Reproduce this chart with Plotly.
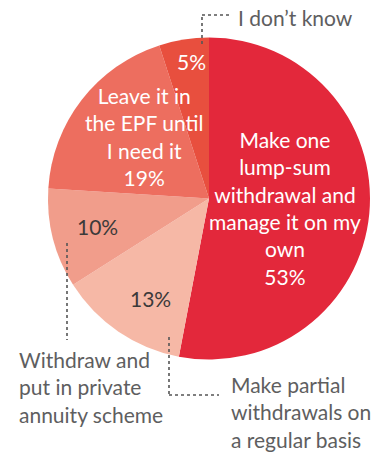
import plotly.graph_objects as go

# Data
labels = [
    "Make one lump-sum withdrawal and manage it on my own",
    "Make partial withdrawals on a regular basis",
    "Withdraw and put in private annuity scheme",
    "Leave it in the EPF until I need it",
    "I don't know",
]
values = [53, 13, 10, 19, 5]
colors = ["#e3283b", "#f6b8a6", "#f19d8b", "#ed6e5f", "#e84f3e"]

W, H = 379, 452
FONT = "Lato"

def px(x):
    return x / W

def py(y):
    return 1 - y / H

fig = go.Figure(
    go.Pie(
        labels=labels,
        values=values,
        sort=False,
        direction="clockwise",
        rotation=0,
        marker=dict(colors=colors, line=dict(width=0)),
        textinfo="none",
        hoverinfo="label+percent",
        showlegend=False,
        domain=dict(x=[px(48), px(370)], y=[py(360), py(37)]),
    )
)

white = "#ffffff"
dark = "#3c3a3a"
grey = "#5e5e60"

ann = []
def add(text, x, y, color, xanchor="center", size=21):
    ann.append(dict(text=text, x=px(x), y=py(y), xref="paper", yref="paper",
                    showarrow=False, xanchor=xanchor, yanchor="middle",
                    align="center" if xanchor == "center" else "left",
                    font=dict(family=FONT, size=size, color=color)))

# inside labels
add("Make one<br>lump-sum<br>withdrawal and<br>manage it on my<br>own<br>%d%%" % values[0], 285, 208, white)
add("%d%%" % values[1], 150, 298, dark)
add("%d%%" % values[2], 97, 227, dark)
add("Leave it in<br>the EPF until<br>I need it<br>%d%%" % values[3], 144, 136, white)
add("%d%%" % values[4], 191, 61, white)

# outside labels
add("I don\u2019t know", 236, 17, grey, xanchor="left")
add("Withdraw and<br>put in private<br>annuity scheme", 17, 387, grey, xanchor="left")
add("Make partial<br>withdrawals on<br>a regular basis", 229, 412, grey, xanchor="left")
for a in ann:
    if a["xanchor"] == "left":
        a["align"] = "left"

dot = dict(color="#555555", width=1.6, dash="dot")
shapes = [
    # I don't know
    dict(type="line", xref="paper", yref="paper", x0=px(202), y0=py(44), x1=px(202), y1=py(15), line=dot),
    dict(type="line", xref="paper", yref="paper", x0=px(202), y0=py(15), x1=px(229), y1=py(15), line=dot),
    # annuity
    dict(type="line", xref="paper", yref="paper", x0=px(67), y0=py(243), x1=px(67), y1=py(340), line=dot),
    # partial
    dict(type="line", xref="paper", yref="paper", x0=px(169), y0=py(337), x1=px(169), y1=py(395), line=dot),
    dict(type="line", xref="paper", yref="paper", x0=px(169), y0=py(395), x1=px(219), y1=py(395), line=dot),
]

fig.update_layout(
    width=W, height=H,
    margin=dict(l=0, r=0, t=0, b=0),
    paper_bgcolor="#ffffff",
    plot_bgcolor="#ffffff",
    annotations=ann,
    shapes=shapes,
)

fig.write_html("out.html")
